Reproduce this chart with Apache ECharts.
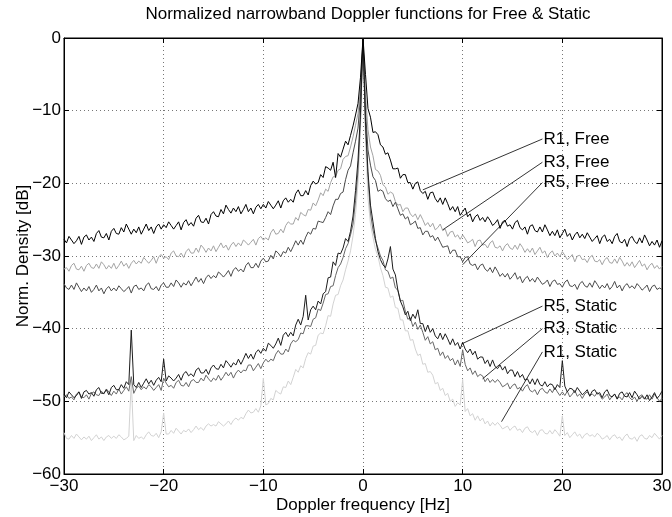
<!DOCTYPE html>
<html><head><meta charset="utf-8">
<script src="https://cdn.jsdelivr.net/npm/echarts@6/dist/echarts.min.js"></script>
<style>html,body{margin:0;padding:0;background:#fff}#c{width:672px;height:517px}</style>
</head><body><div id="c"></div>
<script>
const titleText = 'Normalized narrowband Doppler functions for Free & Static';
const xAxisTitle = 'Doppler frequency [Hz]';
const yAxisTitle = 'Norm. Density [dB]';
const xTicks = [-30, -20, -10, 0, 10, 20, 30];
const yTicks = [-60, -50, -40, -30, -20, -10, 0];

// Doppler frequency grid [Hz]
const freqHz = [
-30,-29.75,-29.5,-29.25, -29,-28.75,-28.5,-28.25, -28,-27.75,-27.5,-27.25, -27,-26.75,-26.5,-26.25,
-26,-25.75,-25.5,-25.25, -25,-24.75,-24.5,-24.25, -24,-23.75,-23.5,-23.25, -23,-22.75,-22.5,-22.25,
-22,-21.75,-21.5,-21.25, -21,-20.75,-20.5,-20.25, -20,-19.75,-19.5,-19.25, -19,-18.75,-18.5,-18.25,
-18,-17.75,-17.5,-17.25, -17,-16.75,-16.5,-16.25, -16,-15.75,-15.5,-15.25, -15,-14.75,-14.5,-14.25,
-14,-13.75,-13.5,-13.25, -13,-12.75,-12.5,-12.25, -12,-11.75,-11.5,-11.25, -11,-10.75,-10.5,-10.25,
-10,-9.75,-9.5,-9.25, -9,-8.75,-8.5,-8.25, -8,-7.75,-7.5,-7.25, -7,-6.75,-6.5,-6.25,
-6,-5.75,-5.5,-5.25, -5,-4.75,-4.5,-4.25, -4,-3.75,-3.5,-3.25, -3,-2.75,-2.5,-2.25,
-2,-1.75,-1.5,-1.25, -1,-0.75,-0.5,-0.25, 0,0.25,0.5,0.75, 1,1.25,1.5,1.75,
2,2.25,2.5,2.75, 3,3.25,3.5,3.75, 4,4.25,4.5,4.75, 5,5.25,5.5,5.75,
6,6.25,6.5,6.75, 7,7.25,7.5,7.75, 8,8.25,8.5,8.75, 9,9.25,9.5,9.75,
10,10.25,10.5,10.75, 11,11.25,11.5,11.75, 12,12.25,12.5,12.75, 13,13.25,13.5,13.75,
14,14.25,14.5,14.75, 15,15.25,15.5,15.75, 16,16.25,16.5,16.75, 17,17.25,17.5,17.75,
18,18.25,18.5,18.75, 19,19.25,19.5,19.75, 20,20.25,20.5,20.75, 21,21.25,21.5,21.75,
22,22.25,22.5,22.75, 23,23.25,23.5,23.75, 24,24.25,24.5,24.75, 25,25.25,25.5,25.75,
26,26.25,26.5,26.75, 27,27.25,27.5,27.75, 28,28.25,28.5,28.75, 29,29.25,29.5,29.75,
30
];

const r1Free = [
-27.7,-28.2,-27.3,-27.8, -28.3,-27.9,-27.3,-28.4, -27.4,-27.1,-27.8,-27.4, -28.0,-26.9,-26.5,-27.4,
-27.5,-26.9,-27.8,-26.6, -26.2,-26.9,-27.0,-26.1, -26.7,-25.6,-26.3,-27.0, -26.3,-26.8,-26.0,-27.0,
-26.3,-25.6,-26.5,-26.0, -26.9,-26.0,-25.6,-26.3, -25.7,-26.1,-25.3,-25.8, -26.3,-25.8,-25.3,-26.4,
-25.4,-25.0,-25.8,-25.4, -25.9,-24.8,-24.4,-25.3, -25.4,-24.8,-25.6,-24.3, -23.9,-24.5,-24.6,-23.6,
-24.2,-23.0,-23.6,-24.1, -23.4,-23.9,-23.2,-24.2, -23.6,-22.9,-23.9,-23.4, -24.2,-23.3,-22.9,-23.5,
-22.9,-23.4,-22.5,-23.0, -23.5,-23.0,-22.4,-23.4, -22.4,-22.0,-22.6,-22.2, -22.6,-21.4,-20.9,-21.7,
-21.7,-21.0,-21.6,-20.3, -19.7,-20.1,-19.9,-18.8, -19.2,-17.7,-17.9,-18.2, -17.1,-19.2,-15.9,-16.4,
-15.3,-14.2,-14.7,-13.4, -12.1,-10.6,-9.0,-5.4, 0,-5.0,-9.7,-10.9, -13.0,-12.9,-13.3,-14.7,
-15.0,-16.0,-15.8,-16.8, -18.0,-18.0,-17.9,-19.3, -18.8,-18.8,-19.9,-19.9, -20.8,-20.0,-19.8,-21.0,
-21.4,-21.1,-22.2,-21.3, -21.2,-22.1,-22.6,-22.0, -22.9,-22.0,-22.8,-23.7, -23.2,-23.9,-23.2,-24.4,
-23.9,-23.4,-24.6,-24.2, -25.3,-24.6,-24.3,-25.1, -24.7,-25.3,-24.6,-25.1, -25.8,-25.5,-25.0,-26.2,
-25.3,-25.1,-25.9,-25.7, -26.3,-25.4,-25.1,-26.1, -26.4,-26.0,-27.0,-25.9, -25.7,-26.5,-26.7,-26.0,
-26.7,-25.7,-26.4,-27.2, -26.6,-27.2,-26.4,-27.5, -26.9,-26.3,-27.3,-26.9, -27.8,-27.1,-26.7,-27.5,
-27.0,-27.6,-26.8,-27.4, -28.0,-27.6,-27.2,-28.3, -27.4,-27.1,-28.0,-27.7, -28.3,-27.3,-26.9,-28.0,
-28.2,-27.7,-28.7,-27.6, -27.3,-28.0,-28.3,-27.5, -28.2,-27.1,-27.8,-28.6, -28.0,-28.5,-27.8,-28.8,
-27.9
];

const r3Free = [
-31.8,-31.6,-32.1,-31.3, -31.0,-31.8,-31.9,-31.4, -32.1,-31.3,-31.0,-31.6, -31.7,-31.1,-31.7,-30.8,
-31.2,-31.8,-31.3,-31.7, -31.0,-31.8,-31.3,-30.7, -31.4,-31.0,-31.7,-31.0, -30.6,-31.1,-30.7,-31.0,
-30.2,-30.6,-31.0,-30.6, -30.1,-31.0,-30.1,-29.8, -30.3,-30.1,-30.5,-29.6, -29.3,-30.0,-30.1,-29.6,
-30.2,-29.4,-29.0,-29.6, -29.6,-28.9,-29.5,-28.5, -28.9,-29.5,-28.9,-29.3, -28.6,-29.4,-28.8,-28.2,
-28.9,-28.5,-29.2,-28.5, -28.1,-28.7,-28.2,-28.6, -27.8,-28.1,-28.5,-28.1, -27.7,-28.5,-27.6,-27.3,
-27.8,-27.5,-27.8,-26.8, -26.3,-27.0,-26.9,-26.3, -26.8,-25.8,-25.3,-25.6, -25.6,-24.7,-25.1,-24.0,
-24.3,-24.5,-23.6,-23.7, -22.7,-23.1,-22.3,-21.3, -21.7,-20.8,-21.1,-19.9, -19.1,-19.1,-18.2,-18.0,
-16.7,-16.3,-16.2,-15.0, -13.6,-12.0,-10.4,-6.8, 0,-7.8,-12.6,-15.0, -16.2,-18.1,-18.3,-18.9,
-20.2,-20.5,-21.5,-21.2, -21.4,-22.5,-23.0,-22.9, -23.9,-23.4,-23.4,-24.2, -24.6,-24.2,-25.0,-24.3,
-25.0,-25.8,-25.4,-26.0, -25.5,-26.4,-26.1,-25.6, -26.5,-26.3,-27.3,-26.7, -26.6,-27.4,-27.1,-27.7,
-27.1,-27.6,-28.2,-28.0, -27.7,-28.7,-27.9,-27.8, -28.5,-28.4,-28.9,-28.2, -27.9,-28.8,-28.9,-28.6,
-29.3,-28.6,-28.3,-28.9, -29.1,-28.5,-29.1,-28.3, -28.8,-29.5,-29.0,-29.5, -28.9,-29.8,-29.3,-28.8,
-29.6,-29.3,-30.2,-29.6, -29.3,-30.0,-29.6,-30.1, -29.4,-29.9,-30.5,-30.2, -29.8,-30.8,-30.0,-29.9,
-30.5,-30.4,-30.9,-30.2, -29.9,-30.7,-30.8,-30.5, -31.2,-30.5,-30.2,-30.9, -31.0,-30.4,-31.0,-30.2,
-30.7,-31.4,-30.9,-31.4, -30.8,-31.6,-31.1,-30.6, -31.4,-31.1,-31.9,-31.3, -31.0,-31.7,-31.3,-31.8,
-31.4
];

const r5Free = [
-33.8,-34.4,-34.6,-34.0, -34.6,-33.7,-34.3,-34.9, -34.4,-34.8,-34.2,-35.0, -34.6,-34.0,-34.8,-34.4,
-35.2,-34.5,-34.2,-34.8, -34.4,-34.8,-34.1,-34.5, -34.9,-34.6,-34.2,-35.1, -34.2,-34.0,-34.6,-34.4,
-34.8,-34.0,-33.7,-34.5, -34.6,-34.2,-34.8,-34.0, -33.7,-34.3,-34.3,-33.7, -34.2,-33.3,-33.7,-34.3,
-33.7,-34.0,-33.4,-34.1, -33.5,-32.9,-33.6,-33.1, -33.8,-33.0,-32.6,-33.1, -32.7,-33.0,-32.2,-32.5,
-32.9,-32.5,-32.0,-32.8, -31.9,-31.6,-32.1,-31.8, -32.2,-31.3,-30.9,-31.6, -31.6,-31.0,-31.6,-30.7,
-30.3,-30.8,-30.7,-29.9, -30.4,-29.3,-29.6,-30.1, -29.4,-29.6,-28.8,-29.4, -28.7,-27.9,-28.5,-27.8,
-28.4,-27.4,-26.7,-27.0, -26.2,-26.3,-25.2,-25.3, -25.4,-24.7,-23.9,-24.3, -23.1,-22.2,-22.2,-21.4,
-21.2,-19.5,-18.2,-17.6, -15.8,-14.2,-12.4,-8.0, 0,-10.0,-15.4,-17.5, -19.1,-19.6,-21.1,-20.9,
-21.1,-22.1,-22.5,-22.3, -23.2,-22.6,-23.5,-24.4, -24.2,-24.9,-24.6,-25.7, -25.5,-25.2,-26.2,-26.1,
-27.1,-26.6,-26.6,-27.4, -27.2,-27.9,-27.4,-28.1, -28.8,-28.7,-28.6,-29.7, -29.2,-29.2,-30.1,-30.1,
-30.8,-30.2,-30.1,-31.1, -31.3,-31.1,-31.9,-31.3, -31.1,-31.8,-32.1,-31.6, -32.3,-31.5,-32.1,-32.8,
-32.4,-32.9,-32.4,-33.2, -32.8,-32.3,-33.2,-32.8, -33.7,-33.1,-32.8,-33.5, -33.1,-33.6,-32.9,-33.4,
-33.9,-33.7,-33.3,-34.2, -33.5,-33.3,-33.9,-33.8, -34.3,-33.6,-33.3,-34.1, -34.2,-33.9,-34.6,-33.8,
-33.5,-34.1,-34.3,-33.7, -34.3,-33.4,-33.9,-34.5, -34.0,-34.4,-33.8,-34.6, -34.2,-33.5,-34.4,-34.0,
-34.8,-34.1,-33.8,-34.4, -34.1,-34.5,-33.8,-34.2, -34.7,-34.4,-34.0,-34.9, -34.2,-34.0,-34.6,-34.4,
-34.6
];

const r5Static = [
-49.1,-49.5,-48.7,-49.1, -49.5,-49.2,-48.7,-49.6, -48.7,-48.5,-49.0,-48.8, -49.3,-48.4,-48.1,-48.9,
-48.9,-48.4,-49.1,-48.1, -47.8,-48.4,-48.4,-47.7, -48.2,-47.3,-47.7,-40.2, -47.7,-48.1,-47.4,-48.1,
-47.5,-46.9,-47.6,-47.1, -47.8,-47.1,-46.7,-47.3, -44.2,-47.2,-46.5,-46.8, -47.2,-46.8,-46.3,-47.1,
-46.2,-45.9,-46.5,-46.2, -46.6,-45.7,-45.4,-46.1, -46.1,-45.6,-46.3,-45.4, -45.0,-45.5,-45.6,-44.9,
-45.4,-44.4,-44.8,-45.3, -44.7,-45.0,-44.2,-44.9, -44.2,-43.4,-44.1,-43.5, -44.2,-43.3,-42.9,-43.4,
-42.7,-43.1,-42.0,-42.3, -42.7,-42.1,-41.3,-42.3, -40.9,-40.5,-41.1,-40.5, -41.0,-39.5,-38.7,-39.5,
-38.3,-35.4,-38.8,-37.4, -36.9,-37.4,-36.2,-36.6, -35.2,-34.9,-33.0,-32.9, -30.8,-31.3,-29.6,-29.7,
-28.9,-27.6,-28.0,-26.6, -24.5,-21.0,-16.8,-10.2, 0,-11.5,-18.4,-23.0, -25.3,-27.6,-29.4,-30.5,
-31.2,-31.6,-30.4,-28.7, -31.8,-32.6,-34.7,-36.2, -37.0,-38.1,-37.6,-38.9, -38.0,-38.6,-37.4,-39.3,
-39.3,-40.4,-39.5,-40.5, -40.0,-41.0,-41.4,-40.6, -41.5,-40.7,-41.4,-42.2, -41.4,-42.3,-41.9,-42.8,
-41.9,-42.8,-43.3,-42.8, -43.6,-43.1,-44.2,-43.9, -43.9,-44.8,-44.3,-45.2, -44.3,-45.2,-45.5,-45.0,
-45.7,-45.2,-46.2,-45.7, -45.7,-46.6,-45.9,-46.7, -46.3,-47.1,-46.9,-47.6, -46.9,-47.7,-46.9,-47.7,
-47.9,-47.3,-48.0,-47.6, -47.7,-48.4,-47.7,-48.1, -44.4,-47.9,-48.7,-48.2, -48.3,-48.8,-48.1,-48.6,
-49.1,-48.8,-48.4,-49.3, -48.6,-48.4,-49.0,-48.8, -49.5,-48.7,-48.4,-49.2, -49.4,-49.0,-49.7,-48.9,
-48.7,-49.3,-49.4,-48.8, -49.5,-48.6,-49.1,-49.7, -49.3,-49.7,-49.1,-49.9, -49.4,-48.8,-49.6,-49.2,
-48.6
];

const r3Static = [
-49.4,-49.1,-49.6,-49.4, -49.8,-49.0,-48.7,-49.4, -49.5,-49.1,-49.7,-48.9, -48.7,-49.1,-49.2,-48.6,
-49.0,-48.3,-48.7,-49.2, -48.6,-49.0,-48.3,-49.0, -48.5,-48.0,-48.6,-46.6, -48.9,-48.2,-47.9,-48.4,
-48.0,-48.3,-47.7,-48.0, -48.5,-48.1,-47.7,-48.5, -46.8,-47.5,-48.0,-47.8, -48.2,-47.4,-47.1,-47.8,
-47.9,-47.4,-48.0,-47.2, -47.0,-47.4,-47.4,-46.8, -47.2,-46.4,-46.9,-47.3, -46.8,-47.1,-46.4,-47.1,
-46.6,-46.0,-46.5,-46.0, -46.8,-46.1,-45.7,-46.1, -45.7,-45.8,-45.0,-45.0, -45.8,-45.3,-44.8,-45.5,
-44.7,-44.2,-44.6,-44.2, -44.4,-43.5,-43.0,-43.5, -43.5,-42.8,-43.2,-42.1, -41.6,-41.8,-41.5,-40.6,
-40.7,-39.6,-39.6,-39.7, -38.7,-38.5,-37.3,-37.5, -36.5,-35.3,-35.2,-34.2, -34.1,-32.7,-31.6,-31.1,
-30.2,-29.0,-28.3,-27.1, -25.6,-22.4,-18.2,-11.2, 0,-12.2,-19.2,-24.1, -26.4,-27.9,-28.9,-30.0,
-30.6,-31.9,-32.1,-33.1, -32.9,-34.4,-34.7,-36.2, -36.1,-37.6,-38.7,-38.5, -39.7,-39.1,-40.1,-39.5,
-40.5,-41.6,-41.1,-42.1, -41.8,-42.9,-42.7,-43.7, -43.2,-44.1,-43.7,-44.4, -44.1,-45.0,-44.3,-45.2,
-42.9,-44.9,-45.8,-45.4, -46.3,-45.8,-46.6,-46.3, -46.5,-47.3,-46.8,-47.4, -47.0,-47.4,-47.0,-47.4,
-48.0,-47.8,-47.5,-48.3, -47.8,-47.6,-48.3,-48.1, -48.6,-48.0,-47.7,-48.5, -48.7,-48.4,-49.1,-48.4,
-48.2,-48.7,-48.9,-48.3, -48.8,-48.1,-48.7,-49.2, -48.7,-49.2,-48.6,-49.4, -49.0,-48.5,-49.3,-49.0,
-49.6,-49.0,-48.7,-49.2, -49.0,-49.3,-48.8,-49.1, -49.7,-49.4,-49.0,-49.8, -49.3,-49.0,-49.6,-49.4,
-49.8,-49.1,-48.8,-49.5, -49.8,-49.4,-50.0,-49.3, -49.1,-49.6,-49.7,-49.1, -49.7,-49.0,-49.5,-50.0,
-49.6
];

const r1Static = [
-54.3,-55.1,-55.2,-54.7, -55.1,-54.5,-54.9,-55.3, -54.9,-55.2,-54.8,-55.4, -55.0,-54.6,-55.2,-54.9,
-55.4,-54.9,-54.7,-55.1, -54.8,-55.1,-54.6,-54.9, -55.3,-55.1,-54.8,-47.3, -55.4,-54.7,-55.1,-54.9,
-55.2,-54.6,-54.2,-54.7, -54.8,-54.4,-55.0,-54.2, -51.6,-54.5,-54.5,-54.0, -54.4,-53.7,-54.1,-54.5,
-54.0,-54.2,-53.8,-54.3, -53.9,-53.4,-53.9,-53.6, -54.0,-53.4,-53.1,-53.4, -53.2,-53.4,-52.8,-53.1,
-53.4,-53.1,-52.7,-53.2, -52.6,-52.3,-52.6,-52.2, -52.4,-51.7,-51.2,-51.6, -51.5,-51.0,-51.5,-50.6,
-46.8,-50.5,-50.3,-49.6, -49.8,-48.5,-48.8,-49.0, -48.0,-48.1,-47.2,-47.7, -46.7,-45.6,-46.0,-45.1,
-45.4,-44.1,-43.3,-43.5, -42.4,-42.3,-40.9,-40.6, -40.7,-39.6,-38.2,-38.3, -36.6,-35.4,-35.3,-34.1,
-33.3,-31.9,-30.7,-29.3, -27.2,-24.3,-20.0,-12.5, 0,-14.0,-22.0,-25.6, -27.4,-29.1,-30.0,-31.6,
-32.7,-34.3,-34.4,-35.7, -35.5,-37.1,-37.2,-38.8, -38.8,-40.3,-40.3,-41.6, -41.5,-42.8,-43.7,-43.5,
-44.9,-44.8,-46.0,-45.9, -46.4,-47.6,-47.4,-48.5, -48.2,-49.2,-48.9,-50.0, -49.7,-50.7,-50.2,-50.5,
-47.0,-51.4,-51.0,-52.0, -51.7,-52.6,-52.0,-52.7, -52.3,-53.1,-52.7,-53.4, -52.9,-53.3,-52.9,-53.3,
-53.8,-53.6,-53.4,-54.0, -53.6,-53.4,-54.0,-53.8, -54.3,-53.7,-53.5,-54.1, -54.3,-54.0,-54.7,-54.0,
-53.9,-54.4,-54.5,-54.0, -54.5,-53.9,-54.3,-54.8, -52.0,-54.7,-54.3,-55.0, -54.6,-54.2,-54.8,-54.5,
-55.1,-54.6,-54.4,-54.8, -54.6,-54.9,-54.4,-54.7, -55.2,-55.0,-54.7,-55.3, -54.8,-54.6,-55.1,-54.9,
-55.4,-54.8,-54.5,-55.1, -55.2,-54.9,-55.5,-54.8, -54.6,-55.1,-55.2,-54.7, -55.0,-54.4,-54.8,-55.2,
-54.7
];

const seriesNames = ['R1, Static', 'R3, Free', 'R3, Static', 'R5, Free', 'R5, Static', 'R1, Free'];
const seriesValues = [r1Static, r3Free, r3Static, r5Free, r5Static, r1Free];
const seriesColors = ['#d2d2d2', '#a3a3a3', '#666666', '#4a4a4a', '#1c1c1c', '#000000'];

// callout labels: point on curve -> label anchor (data coordinates)
const calloutText = ['R1, Free', 'R3, Free', 'R5, Free', 'R5, Static', 'R3, Static', 'R1, Static'];
const calloutPoint = [[6.0, -20.9], [8.0, -26.4], [10.0, -31.2], [9.9, -42.1], [12.0, -46.9], [13.9, -52.8]];
const calloutAnchor = [[18.0, -13.9], [18.0, -17.1], [18.0, -19.9], [18.0, -36.9], [18.0, -40.0], [18.0, -43.2]];

const FONT = '"Liberation Sans", Arial, Helvetica, sans-serif';
const fmt = v => (v < 0 ? '\u2212' + Math.abs(v) : String(v));

const dataSeries = seriesValues.map((vals, k) => ({
  name: seriesNames[k],
  type: 'line',
  data: freqHz.map((f, i) => [f, vals[i]]),
  showSymbol: false,
  symbol: 'none',
  lineStyle: { color: seriesColors[k], width: 1 },
  itemStyle: { color: seriesColors[k] },
  silent: true,
  z: 2 + k
}));

const calloutSeries = calloutText.map((t, k) => ({
  type: 'line',
  data: [calloutPoint[k], calloutAnchor[k]],
  symbol: 'none',
  lineStyle: { color: '#000', width: 0.8 },
  silent: true,
  z: 20,
  endLabel: {
    show: true, formatter: t, color: '#000', fontSize: 17, fontFamily: FONT, distance: 1
  }
}));

const xMin = xTicks[0], xMax = xTicks[xTicks.length - 1], xInt = xTicks[1] - xTicks[0];
const yMin = yTicks[0], yMax = yTicks[yTicks.length - 1], yInt = yTicks[1] - yTicks[0];

const axisCommon = {
  axisLine: { show: true, onZero: false, lineStyle: { color: '#000', width: 1 } },
  axisTick: { show: true, inside: true, length: 5, lineStyle: { color: '#000' } }
};

const option = {
  animation: false,
  backgroundColor: '#fff',
  title: {
    text: titleText, left: 363, top: 1, textAlign: 'center',
    textStyle: { fontSize: 17, fontWeight: 'normal', color: '#000', fontFamily: FONT }
  },
  grid: {
    left: 64, right: 10, top: 38, bottom: 43, containLabel: false, outerBoundsMode: 'none',
    show: true, borderColor: '#000', borderWidth: 1, backgroundColor: 'transparent'
  },
  xAxis: [
    Object.assign({
      type: 'value', min: xMin, max: xMax, interval: xInt, position: 'bottom',
      axisLabel: { color: '#000', fontSize: 17, fontFamily: FONT, margin: 4, formatter: fmt },
      splitLine: { show: true, lineStyle: { color: '#777', type: [1, 3], width: 1 } },
      name: xAxisTitle, nameLocation: 'middle', nameGap: 23, nameMoveOverlap: false,
      nameTextStyle: { color: '#000', fontSize: 17, fontFamily: FONT, verticalAlign: 'top' }
    }, axisCommon),
    Object.assign({
      type: 'value', min: xMin, max: xMax, interval: xInt, position: 'top',
      axisLabel: { show: false }, splitLine: { show: false }
    }, axisCommon)
  ],
  yAxis: [
    Object.assign({
      type: 'value', min: yMin, max: yMax, interval: yInt, position: 'left',
      axisLabel: { color: '#000', fontSize: 17, fontFamily: FONT, margin: 3, formatter: fmt },
      splitLine: { show: true, lineStyle: { color: '#777', type: [1, 3], width: 1 } },
      name: yAxisTitle, nameLocation: 'middle', nameGap: 32, nameMoveOverlap: false,
      nameTextStyle: { color: '#000', fontSize: 17, fontFamily: FONT }
    }, axisCommon),
    Object.assign({
      type: 'value', min: yMin, max: yMax, interval: yInt, position: 'right',
      axisLabel: { show: false }, splitLine: { show: false }
    }, axisCommon)
  ],
  series: dataSeries.concat(calloutSeries)
};

const chart = echarts.init(document.getElementById('c'), null, { renderer: 'canvas' });
chart.setOption(option);
</script>
</body></html>
